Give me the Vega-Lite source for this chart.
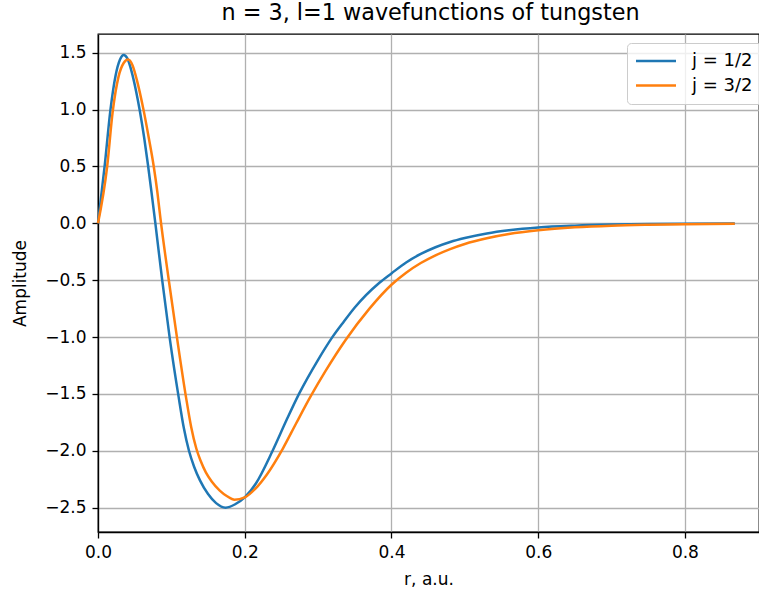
{
  "$schema": "https://vega.github.io/schema/vega-lite/v6.json",
  "width": 661,
  "height": 498,
  "autosize": {"type": "none"},
  "padding": {"left": 98, "top": 34, "right": 0, "bottom": 60},
  "background": "white",
  "title": {
    "text": "n = 3, l=1 wavefunctions of tungsten",
    "fontSize": 22.3,
    "font": "DejaVu Sans",
    "fontWeight": "normal",
    "color": "#000000",
    "anchor": "middle",
    "frame": "group",
    "baseline": "bottom",
    "offset": -13.5,
    "dx": 2
  },
  "config": {
    "font": "DejaVu Sans",
    "view": {"stroke": "#000000", "strokeWidth": 1.3},
    "axis": {
      "domainColor": "#000000",
      "domainWidth": 1.3,
      "tickColor": "#000000",
      "tickWidth": 1.3,
      "tickSize": 6,
      "labelPadding": 6,
      "labelFont": "DejaVu Sans",
      "labelFontSize": 17,
      "labelColor": "#000000",
      "titleFont": "DejaVu Sans",
      "titleFontSize": 17,
      "titleFontWeight": "normal",
      "titleColor": "#000000",
      "gridColor": "#b0b0b0",
      "gridWidth": 1.3,
      "gridOpacity": 1
    },
    "legend": {
      "labelFont": "DejaVu Sans",
      "labelFontSize": 18,
      "labelColor": "#000000"
    }
  },
  "data": {
    "values": [
      {"r": 0.000, "amp": 0.00, "j": "j = 1/2"},
      {"r": 0.009, "amp": 0.50, "j": "j = 1/2"},
      {"r": 0.017, "amp": 1.00, "j": "j = 1/2"},
      {"r": 0.024, "amp": 1.30, "j": "j = 1/2"},
      {"r": 0.030, "amp": 1.44, "j": "j = 1/2"},
      {"r": 0.035, "amp": 1.48, "j": "j = 1/2"},
      {"r": 0.040, "amp": 1.45, "j": "j = 1/2"},
      {"r": 0.046, "amp": 1.33, "j": "j = 1/2"},
      {"r": 0.052, "amp": 1.16, "j": "j = 1/2"},
      {"r": 0.057, "amp": 0.99, "j": "j = 1/2"},
      {"r": 0.063, "amp": 0.75, "j": "j = 1/2"},
      {"r": 0.068, "amp": 0.52, "j": "j = 1/2"},
      {"r": 0.073, "amp": 0.27, "j": "j = 1/2"},
      {"r": 0.078, "amp": 0.01, "j": "j = 1/2"},
      {"r": 0.0875, "amp": -0.50, "j": "j = 1/2"},
      {"r": 0.098, "amp": -1.02, "j": "j = 1/2"},
      {"r": 0.110, "amp": -1.53, "j": "j = 1/2"},
      {"r": 0.117, "amp": -1.80, "j": "j = 1/2"},
      {"r": 0.124, "amp": -2.00, "j": "j = 1/2"},
      {"r": 0.131, "amp": -2.14, "j": "j = 1/2"},
      {"r": 0.139, "amp": -2.26, "j": "j = 1/2"},
      {"r": 0.150, "amp": -2.38, "j": "j = 1/2"},
      {"r": 0.161, "amp": -2.46, "j": "j = 1/2"},
      {"r": 0.174, "amp": -2.50, "j": "j = 1/2"},
      {"r": 0.187, "amp": -2.47, "j": "j = 1/2"},
      {"r": 0.200, "amp": -2.41, "j": "j = 1/2"},
      {"r": 0.215, "amp": -2.29, "j": "j = 1/2"},
      {"r": 0.238, "amp": -2.00, "j": "j = 1/2"},
      {"r": 0.257, "amp": -1.73, "j": "j = 1/2"},
      {"r": 0.274, "amp": -1.50, "j": "j = 1/2"},
      {"r": 0.300, "amp": -1.20, "j": "j = 1/2"},
      {"r": 0.319, "amp": -1.005, "j": "j = 1/2"},
      {"r": 0.335, "amp": -0.865, "j": "j = 1/2"},
      {"r": 0.350, "amp": -0.74, "j": "j = 1/2"},
      {"r": 0.384, "amp": -0.52, "j": "j = 1/2"},
      {"r": 0.400, "amp": -0.44, "j": "j = 1/2"},
      {"r": 0.420, "amp": -0.344, "j": "j = 1/2"},
      {"r": 0.440, "amp": -0.269, "j": "j = 1/2"},
      {"r": 0.460, "amp": -0.210, "j": "j = 1/2"},
      {"r": 0.480, "amp": -0.164, "j": "j = 1/2"},
      {"r": 0.500, "amp": -0.129, "j": "j = 1/2"},
      {"r": 0.530, "amp": -0.089, "j": "j = 1/2"},
      {"r": 0.560, "amp": -0.061, "j": "j = 1/2"},
      {"r": 0.600, "amp": -0.036, "j": "j = 1/2"},
      {"r": 0.650, "amp": -0.020, "j": "j = 1/2"},
      {"r": 0.700, "amp": -0.011, "j": "j = 1/2"},
      {"r": 0.750, "amp": -0.006, "j": "j = 1/2"},
      {"r": 0.800, "amp": -0.003, "j": "j = 1/2"},
      {"r": 0.868, "amp": -0.001, "j": "j = 1/2"},
      {"r": 0.000, "amp": 0.00, "j": "j = 3/2"},
      {"r": 0.0125, "amp": 0.50, "j": "j = 3/2"},
      {"r": 0.020, "amp": 0.98, "j": "j = 3/2"},
      {"r": 0.028, "amp": 1.29, "j": "j = 3/2"},
      {"r": 0.035, "amp": 1.41, "j": "j = 3/2"},
      {"r": 0.041, "amp": 1.44, "j": "j = 3/2"},
      {"r": 0.047, "amp": 1.39, "j": "j = 3/2"},
      {"r": 0.053, "amp": 1.26, "j": "j = 3/2"},
      {"r": 0.062, "amp": 1.00, "j": "j = 3/2"},
      {"r": 0.069, "amp": 0.76, "j": "j = 3/2"},
      {"r": 0.076, "amp": 0.50, "j": "j = 3/2"},
      {"r": 0.081, "amp": 0.27, "j": "j = 3/2"},
      {"r": 0.085, "amp": 0.05, "j": "j = 3/2"},
      {"r": 0.0965, "amp": -0.50, "j": "j = 3/2"},
      {"r": 0.108, "amp": -1.02, "j": "j = 3/2"},
      {"r": 0.120, "amp": -1.53, "j": "j = 3/2"},
      {"r": 0.127, "amp": -1.79, "j": "j = 3/2"},
      {"r": 0.134, "amp": -1.98, "j": "j = 3/2"},
      {"r": 0.140, "amp": -2.09, "j": "j = 3/2"},
      {"r": 0.147, "amp": -2.19, "j": "j = 3/2"},
      {"r": 0.155, "amp": -2.27, "j": "j = 3/2"},
      {"r": 0.166, "amp": -2.35, "j": "j = 3/2"},
      {"r": 0.176, "amp": -2.40, "j": "j = 3/2"},
      {"r": 0.186, "amp": -2.43, "j": "j = 3/2"},
      {"r": 0.200, "amp": -2.41, "j": "j = 3/2"},
      {"r": 0.215, "amp": -2.33, "j": "j = 3/2"},
      {"r": 0.230, "amp": -2.21, "j": "j = 3/2"},
      {"r": 0.252, "amp": -1.98, "j": "j = 3/2"},
      {"r": 0.270, "amp": -1.76, "j": "j = 3/2"},
      {"r": 0.290, "amp": -1.52, "j": "j = 3/2"},
      {"r": 0.310, "amp": -1.30, "j": "j = 3/2"},
      {"r": 0.337, "amp": -1.03, "j": "j = 3/2"},
      {"r": 0.370, "amp": -0.75, "j": "j = 3/2"},
      {"r": 0.400, "amp": -0.54, "j": "j = 3/2"},
      {"r": 0.420, "amp": -0.434, "j": "j = 3/2"},
      {"r": 0.440, "amp": -0.349, "j": "j = 3/2"},
      {"r": 0.460, "amp": -0.281, "j": "j = 3/2"},
      {"r": 0.480, "amp": -0.226, "j": "j = 3/2"},
      {"r": 0.500, "amp": -0.181, "j": "j = 3/2"},
      {"r": 0.530, "amp": -0.131, "j": "j = 3/2"},
      {"r": 0.560, "amp": -0.094, "j": "j = 3/2"},
      {"r": 0.600, "amp": -0.061, "j": "j = 3/2"},
      {"r": 0.650, "amp": -0.035, "j": "j = 3/2"},
      {"r": 0.700, "amp": -0.020, "j": "j = 3/2"},
      {"r": 0.750, "amp": -0.012, "j": "j = 3/2"},
      {"r": 0.800, "amp": -0.007, "j": "j = 3/2"},
      {"r": 0.868, "amp": -0.003, "j": "j = 3/2"}
    ]
  },
  "mark": {"type": "line", "strokeWidth": 2.5, "interpolate": "monotone"},
  "encoding": {
    "x": {
      "field": "r",
      "type": "quantitative",
      "scale": {"domain": [0, 0.901], "nice": false, "zero": false},
      "axis": {
        "values": [0, 0.2, 0.4, 0.6, 0.8],
        "format": ".1f",
        "title": "r, a.u.",
        "titleBaseline": "alphabetic",
        "titleY": 52,
        "labelFlush": false
      }
    },
    "y": {
      "field": "amp",
      "type": "quantitative",
      "scale": {"domain": [-2.714, 1.665], "nice": false, "zero": false},
      "axis": {
        "values": [-2.5, -2.0, -1.5, -1.0, -0.5, 0.0, 0.5, 1.0, 1.5],
        "format": ".1f",
        "title": "Amplitude",
        "titleBaseline": "middle",
        "titleX": -78,
        "titleY": 249,
        "titleAngle": -90,
        "labelFlush": false
      }
    },
    "color": {
      "field": "j",
      "type": "nominal",
      "scale": {"domain": ["j = 1/2", "j = 3/2"], "range": ["#1f77b4", "#ff7f0e"]},
      "legend": {
        "title": null,
        "orient": "none",
        "legendX": 529,
        "legendY": 9,
        "padding": 9,
        "rowPadding": 6.5,
        "strokeColor": "#cccccc",
        "cornerRadius": 4,
        "fillColor": "rgba(255,255,255,0.8)",
        "symbolType": "M-1.8,0H6.2",
        "symbolSize": 100,
        "symbolStrokeWidth": 2.5,
        "labelOffset": 38
      }
    }
  }
}
